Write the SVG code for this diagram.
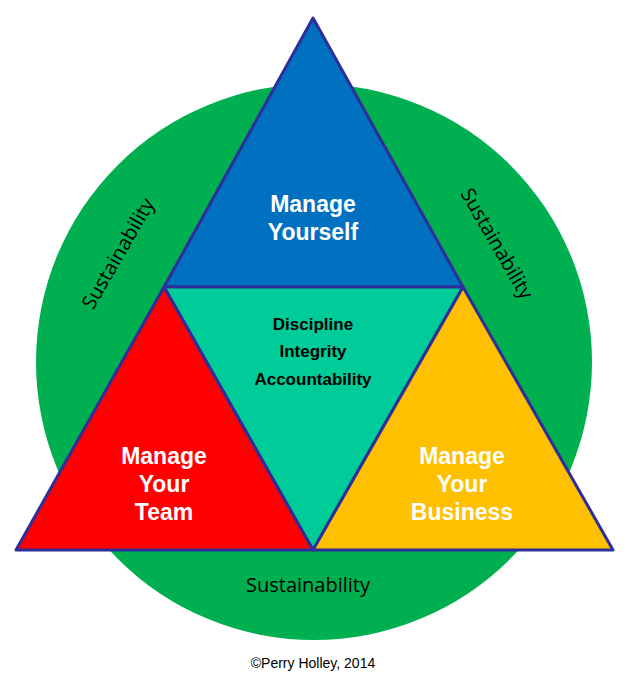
<svg xmlns="http://www.w3.org/2000/svg" width="638" height="691" viewBox="0 0 638 691">
<style>
.t{stroke:#2E2E9A;stroke-width:3;stroke-linejoin:round}
.w{font-family:"Liberation Sans",Arial,sans-serif;font-weight:bold;font-size:23px;fill:#fff;text-anchor:middle}
.k{font-family:"Liberation Sans",Arial,sans-serif;font-weight:bold;font-size:17px;fill:#000;text-anchor:middle}
.s{font-family:"Open Sans","Liberation Sans",sans-serif;font-size:20px;fill:#000;text-anchor:middle}
</style>
<rect width="638" height="691" fill="#fff"/>
<g id="circle"><circle cx="314" cy="362" r="278" fill="#00B050"/>
<text class="s" transform="translate(124,257) rotate(-60)">Sustainability</text>
<text class="s" transform="translate(491,247) rotate(60)">Sustainability</text>
<text class="s" x="308" y="592">Sustainability</text></g>
<g id="yourself"><polygon class="t" points="313,18 463,287 164,287" fill="#0070C0"/>
<text class="w" x="313" y="212">Manage</text><text class="w" x="313" y="240">Yourself</text></g>
<g id="center"><polygon class="t" points="164,287 463,287 313,550" fill="#00CC99"/>
<text class="k" x="313" y="330">Discipline</text><text class="k" x="313" y="357">Integrity</text><text class="k" x="313" y="385">Accountability</text></g>
<g id="team"><polygon class="t" points="164,287 313,550 16,550" fill="#FF0000"/>
<text class="w" x="164" y="464">Manage</text><text class="w" x="164" y="492">Your</text><text class="w" x="164" y="520">Team</text></g>
<g id="business"><polygon class="t" points="463,287 613,550 313,550" fill="#FFC000"/>
<text class="w" x="462" y="464">Manage</text><text class="w" x="462" y="492">Your</text><text class="w" x="462" y="520">Business</text></g>
<text x="313" y="668" font-family="'Liberation Sans',Arial,sans-serif" font-size="14" text-anchor="middle">©Perry Holley, 2014</text>
</svg>
